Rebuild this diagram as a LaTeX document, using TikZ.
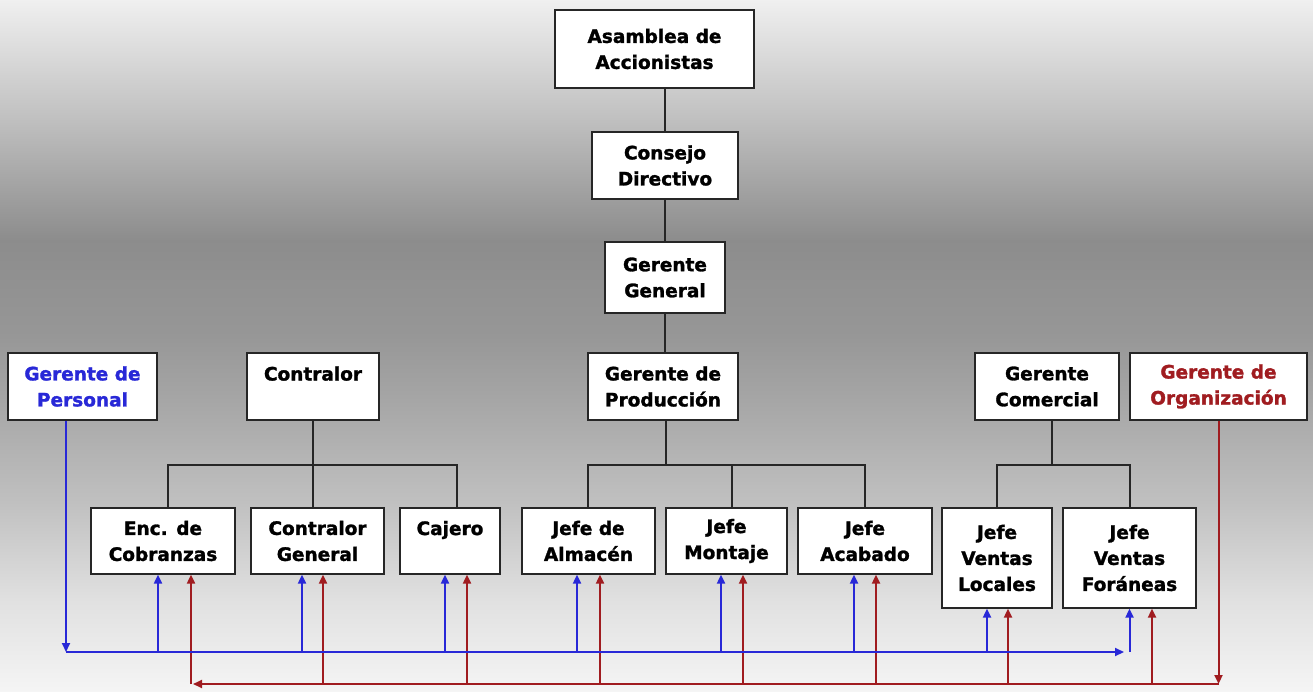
\documentclass[tikz,border=0pt]{standalone}
\usepackage{fontspec}
\setsansfont{DejaVu Sans}[BoldFeatures={FakeBold=1.5}]
\usetikzlibrary{arrows.meta}
\definecolor{azul}{RGB}{40,40,215}
\definecolor{rojo}{RGB}{160,28,32}
\pgfdeclareverticalshading{fondo}{100bp}{color(0bp)=(black!4); color(25bp)=(black!4); color(31.65bp)=(black!12);
	color(38.9bp)=(black!25); color(46.1bp)=(black!35); color(50.9bp)=(black!41); color(57.65bp)=(black!45);
	color(66.3bp)=(black!25); color(75bp)=(black!6); color(100bp)=(black!6)}

\begin{document}
\begin{tikzpicture}[x=1pt,y=-1pt,
				main node/.style = {rectangle,draw=black!85,line width=1.3pt,fill=white,align=center,inner sep=0pt,
					minimum height=67pt,font=\sffamily\bfseries\fontsize{18.5}{26}\selectfont},
				tree/.style = {line width=1.8pt,black!85},
				blue line/.style = {line width=2pt,azul,-{Triangle[length=9pt,width=8pt]}},
				red line/.style = {line width=2pt,rojo,-{Triangle[length=9pt,width=8pt]}}]
				
				\shade[shading=fondo] (0,0) rectangle (1313,692);
				\useasboundingbox (0,0) rectangle (1313,692);
				
				\node[main node,minimum width=199pt,minimum height=78pt] (1) at (654.5,49) {Asamblea de\\Accionistas};
				\node[main node,minimum width=146pt] (2) at (665,165.5) {Consejo\\Directivo};
				\node[main node,minimum width=120pt,minimum height=71pt] (3) at (665,277.5) {Gerente\\General};
				\node[main node,minimum width=149pt,text=azul] (4) at (82.5,386.5) {Gerente de\\Personal};
				\node[main node,minimum width=132pt] (5) at (313,386.5) {Contralor\\~};
				\node[main node,minimum width=150pt] (6) at (663,386.5) {Gerente de\\Producción};
				\node[main node,minimum width=144pt] (7) at (1047,386.5) {Gerente\\Comercial};
				\node[main node,minimum width=177pt,text=rojo] (8) at (1218.5,386.5) {Gerente de\\Organización};
				\node[main node,minimum width=144pt,minimum height=66pt] (9) at (163,541) {Enc. de\\Cobranzas};
				\node[main node,minimum width=133pt,minimum height=66pt] (10) at (317.5,541) {Contralor\\General};
				\node[main node,minimum width=100pt,minimum height=66pt] (11) at (450,541) {Cajero\\~};
				\node[main node,minimum width=133pt,minimum height=66pt] (12) at (588.5,541) {Jefe de\\Almacén};
				\node[main node,minimum width=121pt,minimum height=66pt] (13) at (726.5,541) {Jefe\\Montaje};
				\node[main node,minimum width=134pt,minimum height=66pt] (14) at (865,541) {Jefe\\Acabado};
				\node[main node,minimum width=110pt,minimum height=100pt] (15) at (997,558) {Jefe\\Ventas\\Locales};
				\node[main node,minimum width=133pt,minimum height=100pt] (16) at (1129.5,558) {Jefe\\Ventas\\Foráneas};
				
				\draw[tree] (2.north) -- (2.north |- 1.south);
				\draw[tree] (2.south) -- (3.north);
				\draw[tree] (3.south) -- (3.south |- 6.north);
				
				\draw[tree] (5.south) -- ++(0,44) coordinate (c1);
				\draw[tree] ([xshift=5]9.north) |- (c1) -| ([xshift=7]11.north);
				\draw[tree] (c1) -- (c1 |- 10.north);
				
				\draw[tree] ([xshift=3]6.south) -- ++(0,44) coordinate (c2);
				\draw[tree] ([xshift=-0.5]12.north) |- (c2) -| (14.north);
				\coordinate (c3) at ([xshift=5.5]13.north);
				\draw[tree] (c3) -- (c3 |- c2);
				
				\draw[tree] ([xshift=5]7.south) -- ++(0,44) coordinate (c4);
				\draw[tree] (15.north) |- (c4) -| ([xshift=0.5]16.north);
				
				\coordinate (b) at (0,652);
				\coordinate (r) at (0,684);
				\coordinate (p) at ([xshift=-16.5]4.south);
				\coordinate (bend) at (1124,652);
				\coordinate (rend) at (193,684);
				
				\draw[red line] (8.south) -- (8.south |- r);
				\draw[red line] (8.south |- r) -- (rend);
				\foreach \n/\r in {9/28,10/5.5,11/17,12/11.5,13/16.5,14/11,15/11,16/22.5}{
					\coordinate (v) at ([xshift=\r]\n.south);
					\draw[red line] (v |- r) -- (v);
				}
				
				\draw[blue line] (p) -- (p |- b);
				\draw[blue line] (p |- b) -- (bend);
				\foreach \n/\b in {9/-5,10/-15.5,11/-5,12/-11.5,13/-5.5,14/-11,15/-10,16/0}{
					\coordinate (u) at ([xshift=\b]\n.south);
					\draw[blue line] (u |- b) -- (u);
				}
				\end{tikzpicture}
\end{document}
